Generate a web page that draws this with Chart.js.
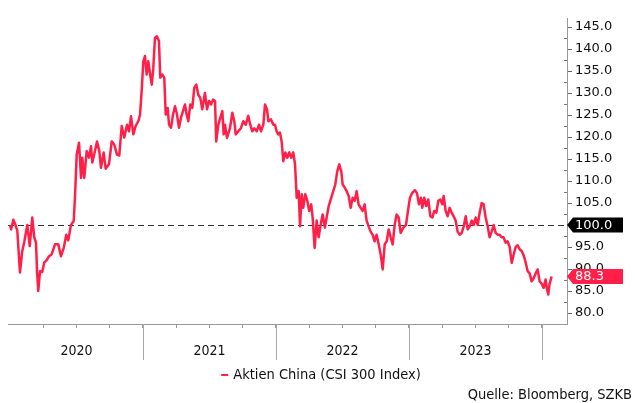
<!DOCTYPE html>
<html>
<head>
<meta charset="utf-8">
<script src="https://cdn.jsdelivr.net/npm/chart.js@4.4.1/dist/chart.umd.min.js"></script>
<style>
  html, body { margin: 0; padding: 0; background: #fff; }
  #wrap { width: 635px; height: 403px; position: relative; }
</style>
</head>
<body>
<div id="wrap"><canvas id="chart"></canvas></div>
<script>
// Months since start of 2020 (x) and index level, 100 = start of 2020 (y)
const months = [
  0.0, 0.1, 0.3, 0.5, 0.66, 0.9, 1.1, 1.3, 1.56, 1.78, 2.01, 2.19, 2.35, 2.44, 2.55, 2.71, 2.91, 3.09, 3.31, 3.52,
  3.76, 4.06, 4.36, 4.6, 4.85, 5.08, 5.26, 5.5, 5.75, 5.86, 6.02, 6.23, 6.41, 6.52, 6.7, 6.92, 7.13, 7.31, 7.43, 7.67,
  7.85, 8.06, 8.21, 8.45, 8.63, 8.93, 9.18, 9.41, 9.65, 9.86, 10.08, 10.31, 10.56, 10.74, 10.92, 11.13, 11.34, 11.58, 11.73, 11.88,
  12.03, 12.18, 12.33, 12.48, 12.63, 12.79, 12.93, 13.08, 13.26, 13.44, 13.56, 13.74, 13.92, 14.05, 14.23, 14.35, 14.53, 14.71, 14.89, 15.07,
  15.25, 15.43, 15.61, 15.79, 15.94, 16.09, 16.27, 16.45, 16.63, 16.81, 16.99, 17.17, 17.35, 17.59, 17.78, 17.96, 18.14, 18.32, 18.5, 18.61,
  18.8, 18.98, 19.16, 19.28, 19.4, 19.58, 19.85, 20.06, 20.24, 20.37, 20.6, 20.84, 21.05, 21.27, 21.5, 21.68, 21.86, 22.04, 22.26, 22.47,
  22.65, 22.86, 23.01, 23.19, 23.31, 23.55, 23.76, 23.91, 24.06, 24.2, 24.36, 24.51, 24.66, 24.84, 25.02, 25.2, 25.38, 25.56, 25.72, 25.87,
  26.05, 26.17, 26.32, 26.46, 26.64, 26.83, 27.0, 27.18, 27.31, 27.49, 27.67, 27.85, 28.03, 28.21, 28.42, 28.57, 28.76, 28.99, 29.17, 29.35,
  29.53, 29.71, 29.89, 30.02, 30.2, 30.38, 30.56, 30.74, 30.92, 31.1, 31.28, 31.46, 31.64, 31.82, 32.0, 32.18, 32.36, 32.54, 32.72, 32.9,
  33.08, 33.27, 33.45, 33.63, 33.81, 33.99, 34.17, 34.35, 34.53, 34.71, 34.89, 35.07, 35.25, 35.49, 35.73, 35.91, 36.09, 36.3, 36.54, 36.72,
  36.9, 37.08, 37.2, 37.38, 37.56, 37.74, 37.93, 38.11, 38.29, 38.47, 38.65, 38.83, 39.01, 39.13, 39.31, 39.49, 39.67, 39.85, 40.03, 40.21,
  40.39, 40.57, 40.76, 40.94, 41.12, 41.3, 41.48, 41.66, 41.84, 42.02, 42.2, 42.38, 42.56, 42.74, 42.92, 43.1, 43.28, 43.46, 43.64, 43.82,
  44.0, 44.18, 44.36, 44.54, 44.72, 44.9, 45.09, 45.27, 45.45, 45.63, 45.81, 45.99, 46.17, 46.35, 46.53, 46.71, 46.89, 47.07, 47.25, 47.43,
  47.61, 47.79, 47.97, 48.15, 48.33, 48.45, 48.57, 48.68, 48.87
];
const csi300 = [
  100, 99, 101.2, 100, 98.7, 89.2, 94, 96.3, 100, 95.2, 101.7, 97.2, 96, 89.5, 85, 89.5, 89.3, 91.5, 92, 92.9,
  93.3, 95.6, 95.6, 92.9, 94.8, 97.8, 96.5, 100, 100.9, 106.2, 116, 118.7, 110.7, 115.3, 110.7, 116.8, 115.3, 117.9, 114.2, 116.8,
  119, 116.8, 113, 116.5, 112.8, 113.8, 119, 118.3, 116, 115.8, 122.5, 119.9, 122.8, 121.3, 124.7, 120.6, 122.5, 123.6, 125, 130.4,
  137.2, 138.4, 134.2, 137.2, 134.5, 131.9, 135.6, 142.5, 142.9, 141.8, 133.5, 134.2, 133.5, 125.1, 126.6, 122.8, 122.1, 125.1, 127, 125.1,
  122.1, 124.4, 125.9, 127.4, 125.1, 123.6, 127.4, 126.6, 131.2, 131.9, 129.6, 128.9, 126.3, 130, 126.3, 128.2, 127.4, 128.5, 128.2, 119,
  122.8, 124.4, 125.9, 120.6, 122.8, 119.8, 122, 125.5, 123.6, 120.6, 121.3, 122, 123.6, 122.8, 124.8, 122.8, 121.3, 122, 121.3, 122.8,
  121.3, 122.8, 127.4, 126.3, 123.6, 124, 122.8, 122.8, 121.3, 120.6, 121, 119, 114.5, 116.5, 115.3, 116.5, 115.3, 116.5, 113.8, 106.2,
  107.7, 99.7, 107, 103.9, 107, 105.5, 103.2, 104.7, 101.7, 94.8, 101, 97.2, 100, 102.4, 99.4, 101.7, 104.3, 106.2, 107.7, 109.2,
  112.2, 113.8, 112.2, 109.2, 108.5, 107.7, 106.6, 103.9, 106.2, 105.5, 107.7, 104.7, 103.9, 103.2, 104.7, 101, 99.7, 98.5, 97.8, 96.3,
  97.8, 95.6, 93.3, 89.9, 95.6, 96.3, 99, 97.2, 95.6, 100, 102.4, 101.7, 98.2, 99.4, 100, 103.2, 106.2, 107.3, 107.9, 107.3,
  104.7, 106.2, 103.9, 106.2, 104.3, 105.8, 102, 101.7, 103.2, 102.8, 105.5, 105.8, 104.7, 106.6, 103.2, 102, 103.9, 102.8, 102, 101,
  98.5, 97.8, 98.2, 99.7, 102, 99, 99.7, 101, 100, 101.7, 100, 102.8, 105, 104.7, 101.7, 99.7, 97.2, 98.5, 100, 98.2,
  97.8, 97.8, 97.2, 97.2, 96, 96.3, 95, 91.4, 93.3, 95, 95.4, 94.5, 94.1, 93.1, 91.5, 89.5, 89, 87.2, 87.9, 89,
  89.9, 87.2, 86.7, 85.7, 87.6, 85.5, 84.2, 86.5, 88.3
];
const yTicks = [80, 85, 90, 95, 100, 105, 110, 115, 120, 125, 130, 135, 140, 145];
const years = ['2020', '2021', '2022', '2023'];
const baseLevel = 100;
const seriesName = 'Aktien China (CSI 300 Index)';
const sourceText = 'Quelle: Bloomberg, SZKB';

const RED = '#ff1f48';
const narrowFont = '"Liberation Sans Narrow", "DejaVu Sans Condensed", "Open Sans", sans-serif';

// Extra drawing: base line, year separators, minor ticks, value tags, legend and source
const decorPlugin = {
  id: 'decor',
  beforeDatasetsDraw(chart) {
    const { ctx, chartArea: a, scales: { y } } = chart;
    const yy = Math.round(y.getPixelForValue(baseLevel)) + 0.5;
    ctx.save();
    ctx.strokeStyle = '#333';
    ctx.lineWidth = 1;
    ctx.setLineDash([6, 4]);
    ctx.beginPath();
    ctx.moveTo(a.left, yy);
    ctx.lineTo(a.right, yy);
    ctx.stroke();
    ctx.restore();
  },
  afterDraw(chart) {
    const { ctx, chartArea: a, scales: { x, y } } = chart;
    ctx.save();

    // year separators below the axis
    ctx.strokeStyle = '#a8a8a8';
    ctx.lineWidth = 1;
    for (let m = 12; m <= 48; m += 12) {
      const xx = Math.round(x.getPixelForValue(m)) + 0.5;
      ctx.beginPath();
      ctx.moveTo(xx, a.bottom);
      ctx.lineTo(xx, a.bottom + 36);
      ctx.stroke();
    }

    // minor ticks on the inner side of the value axis
    ctx.strokeStyle = '#777';
    for (let v = 82.5; v < 147; v += 5) {
      const yy = Math.round(y.getPixelForValue(v)) + 0.5;
      ctx.beginPath();
      ctx.moveTo(a.right - 3, yy);
      ctx.lineTo(a.right, yy);
      ctx.stroke();
    }

    // value tags on the axis
    const tag = (value, fill) => {
      const yy = y.getPixelForValue(value);
      const tip = a.right, h = 15, x0 = tip + 6, x1 = 623;
      ctx.fillStyle = fill;
      ctx.beginPath();
      ctx.moveTo(tip, yy);
      ctx.lineTo(x0, yy - h / 2);
      ctx.lineTo(x1, yy - h / 2);
      ctx.lineTo(x1, yy + h / 2);
      ctx.lineTo(x0, yy + h / 2);
      ctx.closePath();
      ctx.fill();
      ctx.fillStyle = '#fff';
      ctx.font = '13px "DejaVu Sans", sans-serif';
      ctx.textAlign = 'left';
      ctx.textBaseline = 'middle';
      ctx.fillText(value.toFixed(1), tip + 8, yy + 0.5);
    };
    tag(baseLevel, '#000');
    tag(csi300[csi300.length - 1], RED);

    // legend
    ctx.font = '14.5px ' + narrowFont;
    ctx.textBaseline = 'middle';
    const tw = ctx.measureText(seriesName).width;
    const gx = 321 - (tw + 12) / 2;
    ctx.strokeStyle = RED;
    ctx.lineWidth = 2;
    ctx.beginPath();
    ctx.moveTo(gx, 375);
    ctx.lineTo(gx + 7, 375);
    ctx.stroke();
    ctx.fillStyle = '#111';
    ctx.textAlign = 'left';
    ctx.fillText(seriesName, gx + 12, 375);

    // source
    ctx.textAlign = 'right';
    ctx.fillText(sourceText, 632, 395);
    ctx.restore();
  }
};

new Chart(document.getElementById('chart'), {
  type: 'line',
  data: {
    datasets: [{
      label: seriesName,
      data: months.map((m, i) => ({ x: m, y: csi300[i] })),
      borderColor: RED,
      borderWidth: 2.5,
      borderJoinStyle: 'round',
      pointRadius: 0,
      tension: 0
    }]
  },
  options: {
    responsive: true,
    maintainAspectRatio: false,
    animation: false,
    layout: { padding: { left: 8, top: 18, right: 0, bottom: 0 } },
    plugins: {
      legend: { display: false },
      tooltip: { enabled: false }
    },
    scales: {
      x: {
        type: 'linear',
        min: -0.18,
        max: 50.26,
        afterBuildTicks: s => {
          s.ticks = [];
          for (let m = 3; m <= 48; m += 3) s.ticks.push({ value: m });
        },
        ticks: {
          autoSkip: false,
          maxRotation: 0,
          padding: 15,
          color: '#111',
          font: { family: narrowFont, size: 14 },
          callback: v => (v % 12 === 6 ? years[(v - 6) / 12] : '')
        },
        grid: { drawOnChartArea: false, tickLength: 4, color: '#999' },
        border: { color: '#999' },
        afterFit: s => { s.height = 79; }
      },
      y: {
        position: 'right',
        min: 77.5,
        max: 147.05,
        afterBuildTicks: s => { s.ticks = yTicks.map(v => ({ value: v })); },
        ticks: {
          padding: 3,
          color: '#111',
          font: { family: '"DejaVu Sans", sans-serif', size: 13 },
          callback: v => v.toFixed(1)
        },
        grid: { drawOnChartArea: false, tickLength: 5, color: '#666' },
        border: { color: '#999' },
        afterFit: s => { s.width = 68; }
      }
    }
  },
  plugins: [decorPlugin]
});
</script>
</body>
</html>
